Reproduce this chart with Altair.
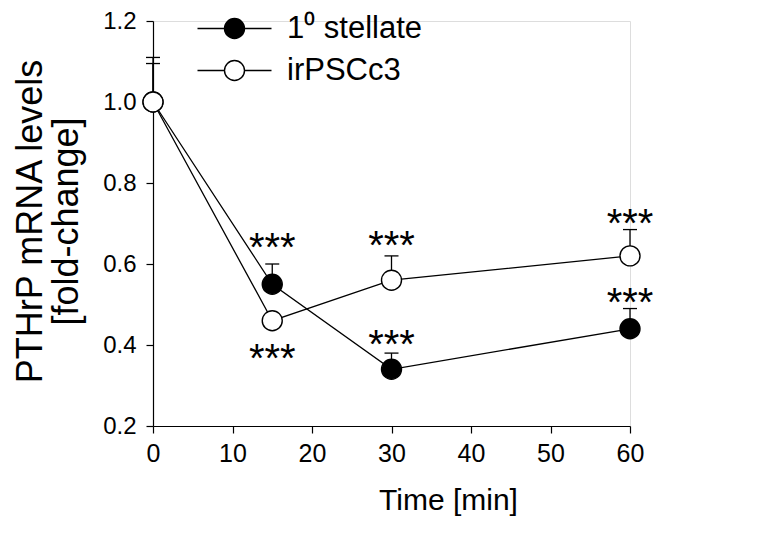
import altair as alt
import pandas as pd

# ---- data ----
times = [0, 15, 30, 60]
series_names = ["1\u2070 stellate", "irPSCc3"]
stellate_vals = [1.0, 0.55, 0.34, 0.44]
stellate_err = [0.095, 0.05, 0.04, 0.05]
irpsc_vals = [1.0, 0.46, 0.56, 0.62]
irpsc_err = [0.11, 0.0, 0.06, 0.065]

# significance marks ("***") : time, y position
star_times = [15, 30, 60, 15, 30, 60]
star_y = [0.665, 0.425, 0.528, 0.391, 0.668, 0.724]
star_text = ["***"] * 6

rows = []
for t, v, e in zip(times, stellate_vals, stellate_err):
    rows.append({"time": t, "value": v, "err": e, "top": v + e, "series": series_names[0]})
for t, v, e in zip(times, irpsc_vals, irpsc_err):
    rows.append({"time": t, "value": v, "err": e, "top": v + e, "series": series_names[1]})
df = pd.DataFrame(rows)
stars = pd.DataFrame({"time": star_times, "y": star_y, "label": star_text})

FONT = "Liberation Sans, Arial, Helvetica, sans-serif"

xscale = alt.Scale(domain=[0, 60], nice=False, zero=False)
yscale = alt.Scale(domain=[0.2, 1.2], nice=False, zero=False)

xaxis = alt.Axis(
    values=[0, 10, 20, 30, 40, 50, 60], title="Time [min]", grid=False,
    labelFontSize=25, titleFontSize=30, labelPadding=8, tickSize=7,
    titleX=295, titleY=59, titleBaseline="top", titleFontWeight="normal",
    labelFont=FONT, titleFont=FONT, labelColor="black", titleColor="black",
    domainColor="black", tickColor="black", domainWidth=1.2, tickWidth=1.2,
    labelFlush=False,
)
yaxis = alt.Axis(
    values=[0.2, 0.4, 0.6, 0.8, 1.0, 1.2], format=".1f",
    title=["PTHrP mRNA levels", "[fold-change]"], grid=False,
    labelFontSize=24, titleFontSize=36, labelPadding=10, tickSize=7,
    titleX=-104, titleY=200, titleFontWeight="normal", titleLineHeight=36,
    titleBaseline="bottom", titleAngle=-90,
    labelFont=FONT, titleFont=FONT, labelColor="black", titleColor="black",
    domainColor="black", tickColor="black", domainWidth=1.2, tickWidth=1.2,
    labelFlush=False,
)

base = alt.Chart(df)

lines = base.mark_line(color="black", strokeWidth=1.3).encode(
    x=alt.X("time:Q", scale=xscale, axis=xaxis),
    y=alt.Y("value:Q", scale=yscale, axis=yaxis),
    detail="series:N",
)

bars = base.transform_filter("datum.err > 0").mark_rule(color="black", strokeWidth=1.3).encode(
    x="time:Q", y="value:Q", y2="top:Q",
)
caps = base.transform_filter("datum.err > 0").mark_rule(
    color="black", strokeWidth=1.3, xOffset=-7, x2Offset=7
).encode(
    x="time:Q", x2="time:Q", y="top:Q",
)

legend_path = "M-3.7,0L-1,0M1,0L3.7,0M-1,0A1,1,0,1,0,1,0A1,1,0,1,0,-1,0Z"

points = base.mark_point(
    filled=True, shape="circle", size=400, stroke="black", strokeWidth=1.4, opacity=1
).encode(
    x="time:Q", y="value:Q",
    fill=alt.Fill(
        "series:N",
        scale=alt.Scale(domain=series_names, range=["black", "white"]),
        legend=alt.Legend(
            title=None, orient="none", legendX=66, legendY=-8,
            symbolType=legend_path, symbolSize=400, symbolStrokeColor="black",
            symbolStrokeWidth=1.4, symbolOpacity=1,
            labelFontSize=31, labelFont=FONT, labelColor="black",
            labelOffset=37, rowPadding=10, padding=0,
        ),
    ),
)

star_marks = alt.Chart(stars).mark_text(
    fontSize=40, font=FONT, color="black", baseline="alphabetic", dy=23
).encode(
    x="time:Q", y="y:Q", text="label:N",
)

chart = (
    alt.layer(lines, bars, caps, points, star_marks)
    .properties(
        width=477, height=405,
        autosize=alt.AutoSizeParams(type="none"),
        padding={"left": 145, "top": 13, "right": 120, "bottom": 100},
    )
    .configure_view(stroke=None)
    .configure(background="white")
)

chart.save("out.html", embed_options={"renderer": "svg", "actions": False})
